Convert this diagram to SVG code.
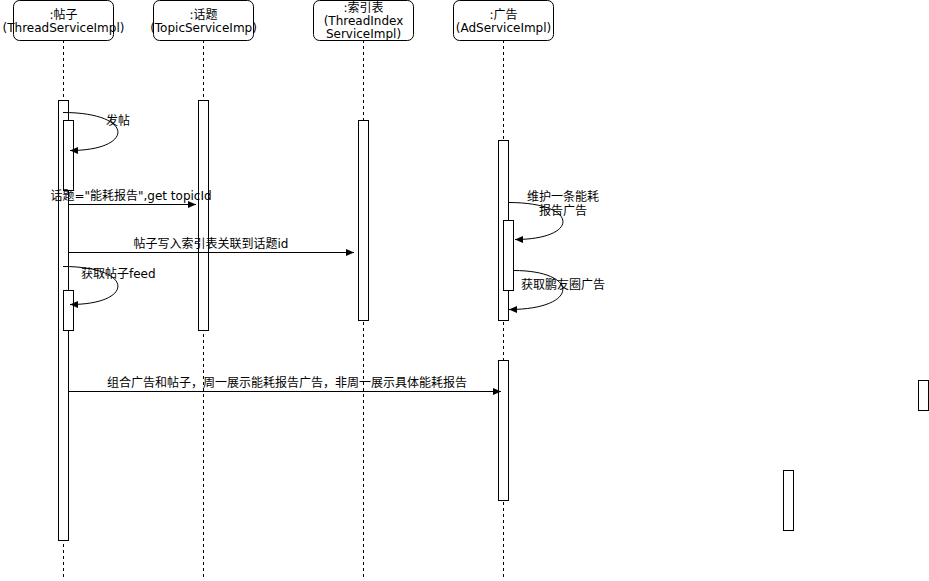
<svg xmlns="http://www.w3.org/2000/svg" width="929" height="581" viewBox="0 0 929 581">
<style>
text{font-family:"DejaVu Sans","Noto Sans CJK SC",sans-serif;font-size:12px;fill:#000}
.hd{fill:#fff;stroke:#000;stroke-width:1}
.life{stroke:#000;stroke-width:1;stroke-dasharray:3 3;fill:none}
.act{fill:#fff;stroke:#000;stroke-width:1}
.msg{stroke:#000;stroke-width:1;fill:none;marker-end:url(#arr)}
.c{text-anchor:middle}
</style>
<defs>
<marker id="arr" markerWidth="8" markerHeight="7" refX="8" refY="3.5" orient="auto" markerUnits="userSpaceOnUse">
<path d="M0,0 L8,3.5 L0,7 Z" fill="#000"/>
</marker>
</defs>
<rect width="929" height="581" fill="#fff"/>
<g id="lifelines">
<line class="life" x1="63.5" y1="40" x2="63.5" y2="578"/>
<line class="life" x1="203.5" y1="40" x2="203.5" y2="578"/>
<line class="life" x1="363.5" y1="40" x2="363.5" y2="578"/>
<line class="life" x1="503.5" y1="40" x2="503.5" y2="578"/>
</g>
<g id="node-thread">
<rect class="hd" x="13.5" y="0.5" width="100" height="40" rx="6"/>
<text class="c" x="63.5" y="19">:帖子</text>
<text class="c" x="63.5" y="32">(ThreadServiceImpl)</text>
</g>
<g id="node-topic">
<rect class="hd" x="153.5" y="0.5" width="100" height="40" rx="6"/>
<text class="c" x="203.5" y="19">:话题</text>
<text class="c" x="203.5" y="32">(TopicServiceImp)</text>
</g>
<g id="node-index">
<rect class="hd" x="313.5" y="0.5" width="100" height="40" rx="6"/>
<text class="c" x="363.5" y="12">:索引表</text>
<text class="c" x="363.5" y="25">(ThreadIndex</text>
<text class="c" x="363.5" y="38">ServiceImpl)</text>
</g>
<g id="node-ad">
<rect class="hd" x="453.5" y="0.5" width="100" height="40" rx="6"/>
<text class="c" x="503.5" y="19">:广告</text>
<text class="c" x="503.5" y="32">(AdServiceImpl)</text>
</g>
<g id="activations">
<rect class="act" x="58.5" y="100.5" width="10" height="440"/>
<rect class="act" x="63.5" y="120.5" width="10" height="70"/>
<rect class="act" x="63.5" y="290.5" width="10" height="40"/>
<rect class="act" x="198.5" y="100.5" width="10" height="230"/>
<rect class="act" x="358.5" y="120.5" width="10" height="200"/>
<rect class="act" x="498.5" y="140.5" width="10" height="180"/>
<rect class="act" x="503.5" y="220.5" width="10" height="70"/>
<rect class="act" x="498.5" y="360.5" width="10" height="140"/>
<rect class="act" x="918.5" y="380.5" width="10" height="30"/>
<rect class="act" x="783.5" y="470.5" width="10" height="60"/>
</g>
<g id="connectors">
<path class="msg" d="M63,112.5 C135,112.5 135,150.5 70,150.5"/>
<path class="msg" d="M68.5,204.5 L196,204.5"/>
<path class="msg" d="M68.5,252.5 L354,252.5"/>
<path class="msg" d="M63,266.5 C135,266.5 135,304.5 70,304.5"/>
<path class="msg" d="M508.5,202.5 C580,202.5 580,239.5 515,239.5"/>
<path class="msg" d="M513.5,270.5 C580,270.5 580,309.5 509,309.5"/>
<path class="msg" d="M68.5,391.5 L501,391.5"/>
</g>
<g id="labels">
<text class="c" x="118" y="125">发帖</text>
<text class="c" x="131" y="200">话题="能耗报告",get topicId</text>
<text class="c" x="211" y="248">帖子写入索引表关联到话题id</text>
<text x="81" y="278">获取帖子feed</text>
<text class="c" x="563" y="201">维护一条能耗</text>
<text class="c" x="563" y="215">报告广告</text>
<text x="521" y="289">获取鹏友圈广告</text>
<text class="c" x="287" y="387">组合广告和帖子，周一展示能耗报告广告，非周一展示具体能耗报告</text>
</g>
</svg>
